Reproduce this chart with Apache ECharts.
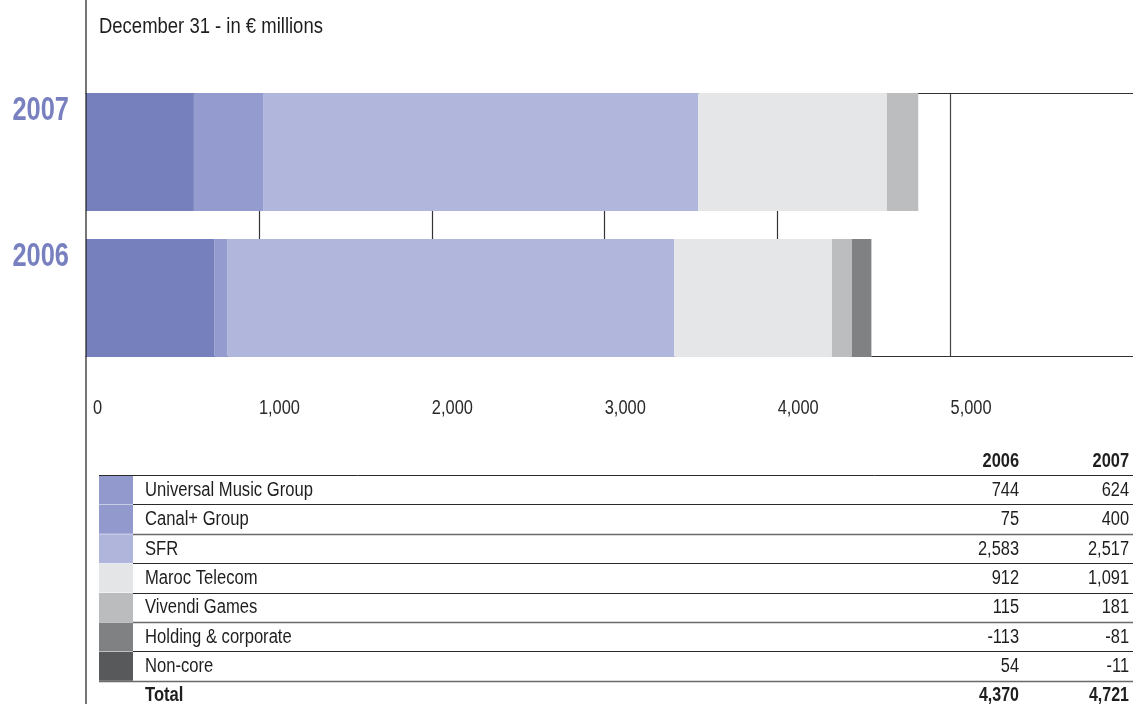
<!DOCTYPE html>
<html>
<head>
<meta charset="utf-8">
<script src="https://cdn.jsdelivr.net/npm/echarts@6/dist/echarts.min.js"></script>
<style>
  html, body { margin: 0; padding: 0; background: #fff; }
  #chart { width: 1133px; height: 704px; }
</style>
</head>
<body>
<div id="chart"></div>
<script>
// ---------- data ----------
const years = ['2006', '2007'];               // bottom to top
const title = 'December 31 - in € millions';
const tickValues = [0, 1000, 2000, 3000, 4000, 5000];
const tickLabels = ['0', '1,000', '2,000', '3,000', '4,000', '5,000'];

// drawn bar segments (as pictured)
const umgBar     = [744, 624];
const canalBar   = [75, 400];
const sfrBar     = [2583, 2517];
const marocBar   = [912, 1091];
const gamesBar   = [115, 181];
const holdingBar = [113, 0];

// table
const rowNames = ['Universal Music Group', 'Canal+ Group', 'SFR', 'Maroc Telecom',
                  'Vivendi Games', 'Holding & corporate', 'Non-core'];
const values2006 = [744, 75, 2583, 912, 115, -113, 54];
const values2007 = [624, 400, 2517, 1091, 181, -81, -11];
const total2006 = 4370;
const total2007 = 4721;

// ---------- styles ----------
const FONT = "'Liberation Sans', Arial, sans-serif";
const barColors = ['#7680bd', '#949bcf', '#b0b6dc', '#e5e6e8', '#bcbdbf', '#808183'];
const swatchColors = ['#9299cc', '#9299cc', '#b0b5dc', '#e4e5e7', '#bbbcbe', '#808183', '#58595b'];
const yearColor = '#7880c0';
const textColor = '#1e1e1e';

const X_MAX = 6055;
const fmt = v => v.toLocaleString('en-US');

const seriesData = [umgBar, canalBar, sfrBar, marocBar, gamesBar, holdingBar];
const series = seriesData.map((d, i) => ({
  type: 'bar',
  name: rowNames[i],
  stack: 'total',
  xAxisIndex: 0,
  yAxisIndex: 0,
  barWidth: 118,
  data: d,
  itemStyle: { color: barColors[i] },
  emphasis: { disabled: true },
  z: 5
}));

const option = {
  animation: false,
  backgroundColor: '#ffffff',
  grid: [
    { left: 86, right: 0, top: 79, bottom: 704 - 371, outerBoundsMode: 'none', containLabel: false },
    { left: 86, right: 0, top: 93, bottom: 704 - 356, outerBoundsMode: 'none', containLabel: false }
  ],
  xAxis: [
    { gridIndex: 0, type: 'value', min: 0, max: X_MAX, show: false },
    {
      gridIndex: 1, type: 'value', position: 'bottom', min: 0, max: X_MAX, interval: 1000,
      axisLine: { show: true, lineStyle: { color: '#333', width: 1 } },
      axisTick: { show: false },
      axisLabel: { show: false },
      splitLine: {
        show: true,
        lineStyle: { color: ['transparent', '#333', '#333', '#333', '#333', '#444', 'transparent', 'transparent'], width: 1.2 }
      }
    },
    {
      gridIndex: 1, type: 'value', position: 'top', min: 0, max: X_MAX, interval: 1000,
      axisLine: { show: true, lineStyle: { color: '#333', width: 1 } },
      axisTick: { show: false }, axisLabel: { show: false }, splitLine: { show: false }
    }
  ],
  yAxis: [
    {
      gridIndex: 0, type: 'category', data: years,
      axisLine: { show: false }, axisTick: { show: false }, splitLine: { show: false },
      axisLabel: { show: false }
    },
    { gridIndex: 1, type: 'value', min: 0, max: 1, show: false }
  ],
  series: series
};

const chart = echarts.init(document.getElementById('chart'), null, { renderer: 'canvas' });
chart.setOption(option);

// ---------- text (condensed look via horizontal scaling) ----------
function txt(text, x, y, o) {
  o = o || {};
  return {
    type: 'text',
    x: x, y: y,
    scaleX: o.sx || 0.83,
    z: 30,
    style: {
      text: text, x: 0, y: 0,
      textAlign: o.align || 'left',
      textVerticalAlign: 'middle',
      font: (o.bold ? 'bold ' : '') + (o.size || 20) + 'px ' + FONT,
      fill: o.color || textColor
    }
  };
}

const graphics = [];
graphics.push({
  type: 'line', shape: { x1: 86, y1: 0, x2: 86, y2: 704 },
  style: { stroke: '#1a1a1a', lineWidth: 1.2 }, z: 20
});
graphics.push(txt(title, 99, 27, { size: 22, sx: 0.84 }));

// axis tick labels from the library's scale
tickValues.forEach((v, i) => {
  const px = chart.convertToPixel({ xAxisIndex: 1 }, v);
  graphics.push(txt(tickLabels[i], px + (i === 0 ? 7 : 0), 408.5, { size: 20, sx: 0.82, color: '#2a2a2a' }));
});
// year labels from the category axis
years.forEach(y => {
  const py = chart.convertToPixel({ yAxisIndex: 0 }, y);
  graphics.push(txt(y, 69, py - 41, { size: 33, bold: true, sx: 0.77, align: 'right', color: yearColor }));
});

// table
const L0 = 475, RH = 29.4;
const col2006 = 1019, col2007 = 1129;
graphics.push(txt(years[0], col2006, 461, { bold: true, align: 'right', sx: 0.82 }));
graphics.push(txt(years[1], col2007, 461, { bold: true, align: 'right', sx: 0.82 }));
for (let i = 0; i < rowNames.length; i++) {
  const top = L0 + i * RH;
  const cy = top + RH / 2 + 0.5;
  graphics.push({
    type: 'rect', shape: { x: 99, y: top + 0.5, width: 34, height: RH - 0.5 },
    style: { fill: swatchColors[i] }
  });
  graphics.push(txt(rowNames[i], 145, cy));
  graphics.push(txt(fmt(values2006[i]), col2006, cy, { align: 'right', sx: 0.82 }));
  graphics.push(txt(fmt(values2007[i]), col2007, cy, { align: 'right', sx: 0.82 }));
}
const totY = L0 + 7 * RH + 15;
graphics.push(txt('Total', 145, totY, { bold: true }));
graphics.push(txt(fmt(total2006), col2006, totY, { bold: true, align: 'right', sx: 0.8 }));
graphics.push(txt(fmt(total2007), col2007, totY, { bold: true, align: 'right', sx: 0.8 }));
for (let i = 0; i <= 7; i++) {
  const y = Math.round(L0 + i * RH) + 0.5;
  const grayish = (i === 2 || i === 5 || i === 7);
  graphics.push({
    type: 'line',
    shape: { x1: (i === 0 || i === 7) ? 99 : 133, y1: y, x2: 1133, y2: y },
    style: { stroke: grayish ? '#6a6a6a' : '#2a2a2a', lineWidth: grayish ? 1.5 : 1 },
    z: 10
  });
}

chart.setOption({ graphic: { elements: graphics } });
</script>
</body>
</html>
